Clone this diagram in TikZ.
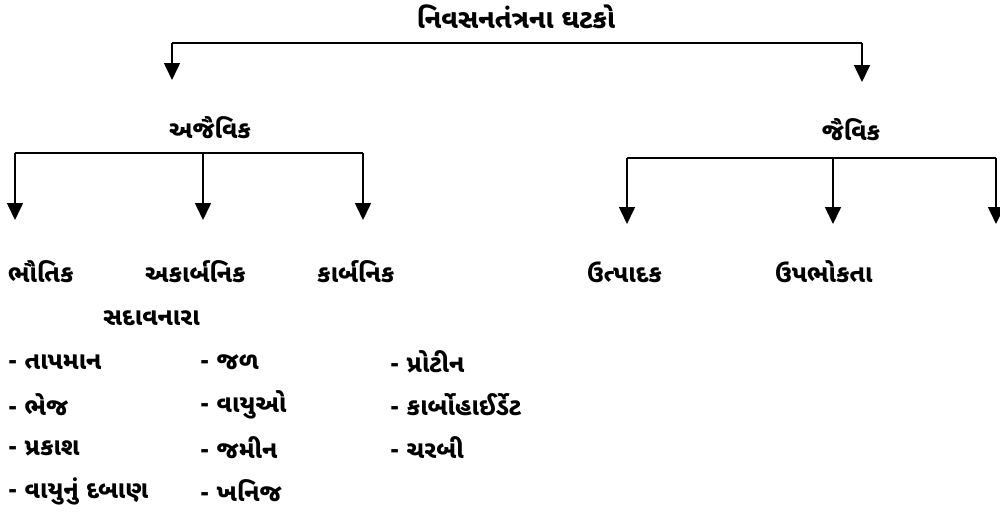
\documentclass[tikz,border=0pt]{standalone}
\usepackage{fontspec}
\usetikzlibrary{arrows.meta}
\newfontfamily\guj[Script=Gujarati]{Noto Sans Gujarati UI}
\begin{document}
\begin{tikzpicture}[x=1pt,y=-1pt,
  lbl/.style={font=\guj\bfseries\fontsize{24.5}{28}\selectfont, inner sep=0pt},
  ttl/.style={font=\guj\bfseries\fontsize{26.5}{30}\selectfont, inner sep=0pt},
  item/.style={lbl, anchor=west},
  conn/.style={line width=1.6pt},
  arr/.style={conn, -{Triangle[width=16pt,length=17pt]}}]
\useasboundingbox (0,0) rectangle (1000,519);
% heading
\node[ttl] (root) at (516,17) {નિવસનતંત્રના ઘટકો};
% branch points of the top level
\coordinate (r1) at (172,43);
\coordinate (r2) at (862,43);
\node[lbl] (abio) at (210,128) {અજૈવિક};
\node[lbl] (bio) at (851,130) {જૈવિક};
\coordinate (a0) at (172,80);
\coordinate (b0) at (862,82);
\draw[conn] (r1) -- (r2);
\draw[arr] (r1) -- (a0);
\draw[arr] (r2) -- (b0);
% abiotic branch
\coordinate (la) at (15,153);
\coordinate (lb) at (203,153);
\coordinate (lc) at (363,153);
\coordinate (la1) at (15,220);
\coordinate (lb1) at (203,220);
\coordinate (lc1) at (363,220);
\draw[conn] (la) -- (lc);
\draw[arr] (la) -- (la1);
\draw[arr] (lb) -- (lb1);
\draw[arr] (lc) -- (lc1);
% biotic branch
\coordinate (ra) at (627,158);
\coordinate (rb) at (833,158);
\coordinate (rc) at (996,158);
\coordinate (ra1) at (627,224);
\coordinate (rb1) at (833,224);
\coordinate (rc1) at (996,224);
\draw[conn] (ra) -- (rc);
\draw[arr] (ra) -- (ra1);
\draw[arr] (rb) -- (rb1);
\draw[arr] (rc) -- (rc1);
% category labels
\node[item] (phys) at (8,272) {ભૌતિક};
\node[item] (inorg) at (145,272) {અકાર્બનિક};
\node[item] (org) at (317,272) {કાર્બનિક};
\node[item] (prod) at (587,272) {ઉત્પાદક};
\node[item] (cons) at (775,272) {ઉપભોકતા};
\node[item] (dec) at (103,318) {સદાવનારા};
% lists
\node[item] (p1) at (8,362) {- તાપમાન};
\node[item] (p2) at (8,405) {- ભેજ};
\node[item] (p3) at (8,448) {- પ્રકાશ};
\node[item] (p4) at (8,491) {- વાયુનું દબાણ};
\node[item] (i1) at (200,362) {- જળ};
\node[item] (i2) at (200,405) {- વાયુઓ};
\node[item] (i3) at (200,448) {- જમીન};
\node[item] (i4) at (200,491) {- ખનિજ};
\node[item] (o1) at (390,362) {- પ્રોટીન};
\node[item] (o2) at (390,405) {- કાર્બોહાઈર્ડેટ};
\node[item] (o3) at (390,448) {- ચરબી};
\end{tikzpicture}
\end{document}
